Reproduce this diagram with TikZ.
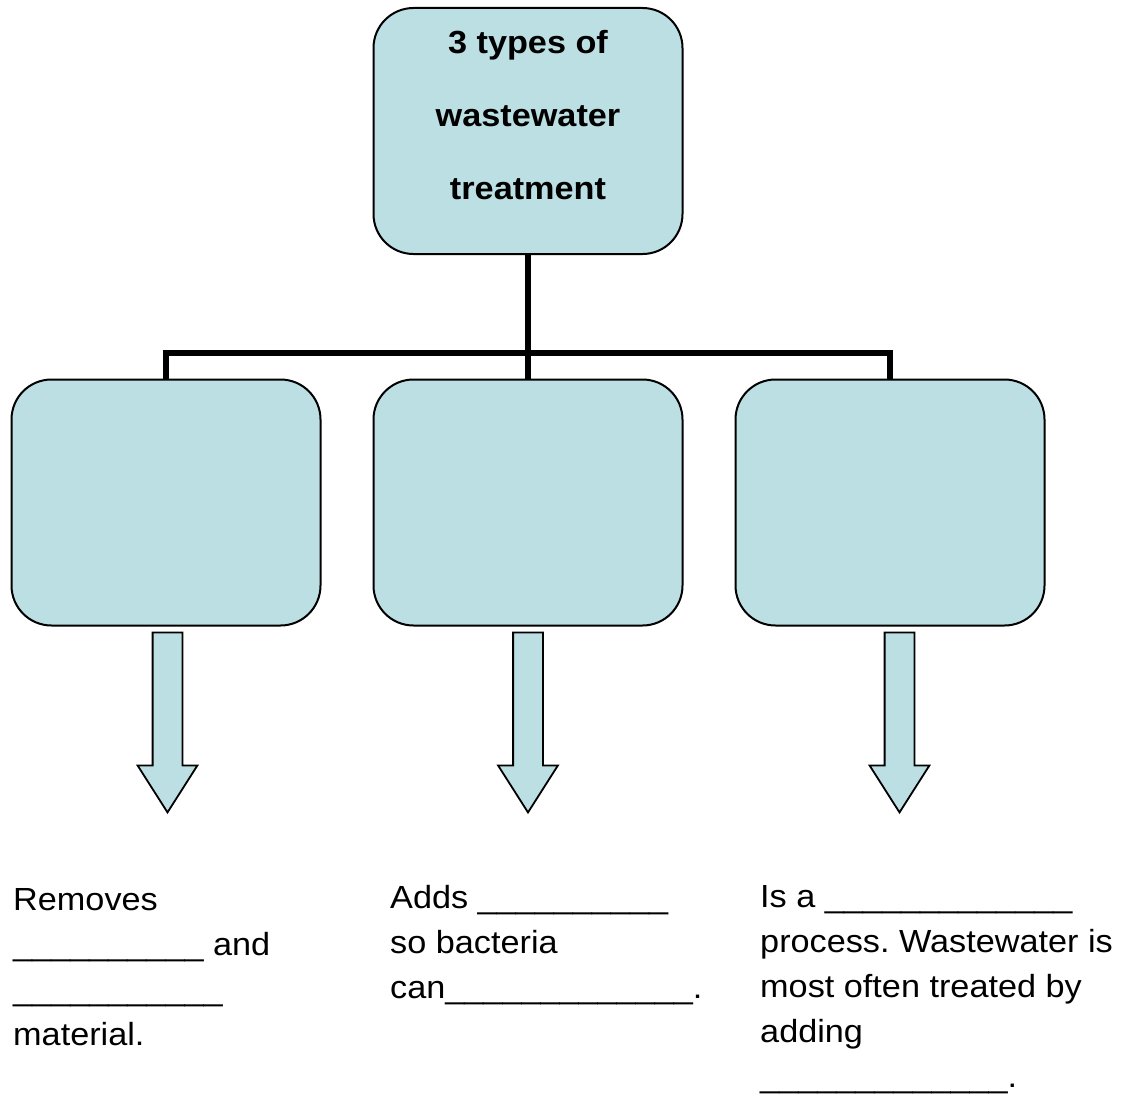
\documentclass[tikz,border=0pt]{standalone}
\usepackage{fontspec}
\setmainfont{Liberation Sans}[FakeStretch=1.07]
\usetikzlibrary{shapes.arrows,positioning}
\definecolor{boxblue}{RGB}{187,223,227}
\frenchspacing
\begin{document}
\begin{tikzpicture}[x=1pt,y=1pt,
level distance=371.5pt,
level 1/.style={sibling distance=362pt},
edge from parent path={(\tikzparentnode.south) -- +(0,-98) -| (\tikzchildnode.north)},
edge from parent/.style={draw,line width=5.5pt}]
\tikzstyle{box}=[rectangle,rounded corners=40pt,draw,line width=2pt,fill=boxblue,
  minimum width=309pt,minimum height=246pt,inner sep=0pt]
\tikzstyle{blockarrow}=[single arrow,draw,line width=1.8pt,fill=boxblue,shape border rotate=270,
  inner sep=14pt,minimum height=180pt,single arrow head extend=15pt,single arrow tip angle=65]
\tikzstyle{title}=[inner sep=0pt,align=center,font=\bfseries\fontsize{32pt}{73pt}\selectfont]
\tikzstyle{answer}=[inner sep=0pt,align=left,font=\fontsize{32pt}{45pt}\selectfont]
\useasboundingbox (0,0) rectangle (1126,-1097);
\node[box] (top) at (528,-131) {}
child { node[box] (b1) {} }
child { node[box] (b2) {} }
child { node[box] (b3) {} };
\node[title,anchor=north] (ttl) at ([yshift=-23.6pt]top.north) {3 types of\\wastewater\\treatment};
% arrows under the boxes
\node[blockarrow,anchor=tail] (a1) at ([xshift=1.5pt,yshift=-5pt]b1.south) {};
\node[blockarrow,anchor=tail] (a2) at ([yshift=-5pt]b2.south) {};
\node[blockarrow,anchor=tail] (a3) at ([xshift=9.5pt,yshift=-5pt]b3.south) {};
% fill in the blanks
\node[answer,anchor=north west] (t1) at (13,-888) {Removes\\\_\_\_\_\_\_\_\_\_\_ and\\\_\_\_\_\_\_\_\_\_\_\_\\material.};
\node[answer,anchor=north west] (t2) at (390,-884.7) {Adds \_\_\_\_\_\_\_\_\_\_\\so bacteria\\can\_\_\_\_\_\_\_\_\_\_\_\_\_.};
\node[answer,anchor=north west] (t3) at (760,-885) {Is a \_\_\_\_\_\_\_\_\_\_\_\_\_\\process. Wastewater is\\most often treated by\\adding\\\_\_\_\_\_\_\_\_\_\_\_\_\_.};
\end{tikzpicture}
\end{document}
